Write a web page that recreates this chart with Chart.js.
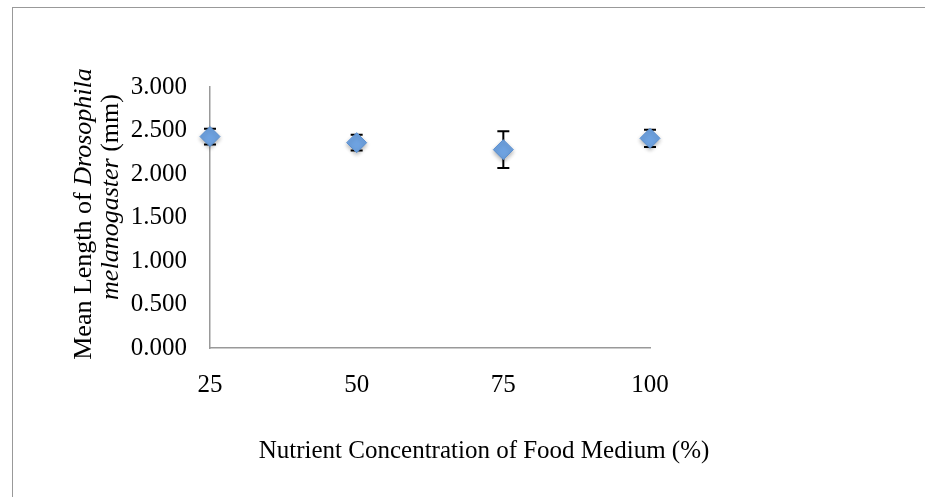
<!DOCTYPE html>
<html>
<head>
<meta charset="utf-8">
<script src="https://cdn.jsdelivr.net/npm/chart.js@4.4.0/dist/chart.umd.min.js"></script>
<style>
  html, body { margin: 0; padding: 0; background: #fff; }
  #wrap { position: relative; width: 925px; height: 497px; overflow: hidden; }
  #frame { position: absolute; left: 12px; top: 7px; width: 1000px; height: 600px;
           border: 1.5px solid #999; box-sizing: border-box; }
  canvas { position: absolute; left: 0; top: 0; }
</style>
</head>
<body>
<div id="wrap">
  <div id="frame"></div>
  <canvas id="chart" width="925" height="497"></canvas>
</div>
<script>
// nutrient concentration of food medium (%)
const concentration = [25, 50, 75, 100];
// mean length (mm) and error bar size
const meanLength = [2.43, 2.36, 2.28, 2.41];
const errorSize = [0.09, 0.09, 0.21, 0.10];
const yTicks = [0, 0.5, 1, 1.5, 2, 2.5, 3];
const xTicks = [25, 50, 75, 100];

const serif = "'Liberation Serif', 'Times New Roman', serif";
const fontSize = 25;
const yTitleSize = 26;

const extras = {
  id: 'extras',
  beforeDatasetsDraw(chart) {
    const { ctx, scales: { x, y } } = chart;
    ctx.save();
    ctx.strokeStyle = '#000';
    ctx.lineWidth = 2;
    concentration.forEach(function (c, i) {
      const px = x.getPixelForValue(c);
      const top = y.getPixelForValue(meanLength[i] + errorSize[i]);
      const bot = y.getPixelForValue(meanLength[i] - errorSize[i]);
      ctx.beginPath();
      ctx.moveTo(px, top); ctx.lineTo(px, bot);
      ctx.moveTo(px - 6, top); ctx.lineTo(px + 6, top);
      ctx.moveTo(px - 6, bot); ctx.lineTo(px + 6, bot);
      ctx.stroke();
    });
    ctx.restore();
  },
  beforeDatasetDraw(chart) {
    const ctx = chart.ctx;
    ctx.save();
    ctx.shadowColor = 'rgba(0,0,0,0.3)';
    ctx.shadowBlur = 4;
    ctx.shadowOffsetY = 2;
  },
  afterDatasetDraw(chart) {
    chart.ctx.restore();
  },
  afterDraw(chart) {
    const ctx = chart.ctx;
    ctx.save();
    ctx.fillStyle = '#000';
    ctx.textBaseline = 'alphabetic';
    // x axis title
    ctx.font = fontSize + 'px ' + serif;
    ctx.textAlign = 'center';
    ctx.fillText('Nutrient Concentration of Food Medium (%)', 484, 458);

    // y axis title, two lines with italic species name
    function line(parts, bx, cy) {
      let w = 0;
      parts.forEach(function (p) { ctx.font = p[1] + yTitleSize + 'px ' + serif; w += ctx.measureText(p[0]).width; });
      ctx.save();
      ctx.translate(bx, cy);
      ctx.rotate(-Math.PI / 2);
      ctx.textAlign = 'left';
      let xx = -w / 2;
      parts.forEach(function (p) {
        ctx.font = p[1] + yTitleSize + 'px ' + serif;
        ctx.fillText(p[0], xx, 0);
        xx += ctx.measureText(p[0]).width;
      });
      ctx.restore();
    }
    line([['Mean Length of ', ''], ['Drosophila', 'italic ']], 91, 214);
    line([['melanogaster', 'italic '], [' (mm)', '']], 118, 197);
    ctx.restore();
  }
};

new Chart(document.getElementById('chart'), {
  type: 'scatter',
  data: {
    datasets: [{
      data: concentration.map(function (c, i) { return { x: c, y: meanLength[i] }; }),
      clip: false,
      pointStyle: 'rectRot',
      pointRadius: 10,
      pointHoverRadius: 10,
      backgroundColor: '#6ea2e0',
      borderColor: '#5a8fd0',
      borderWidth: 1
    }]
  },
  options: {
    responsive: false,
    animation: false,
    events: [],
    layout: { padding: { left: 0, right: 275, top: 87, bottom: 0 } },
    plugins: { legend: { display: false }, tooltip: { enabled: false } },
    scales: {
      x: {
        type: 'linear',
        min: 25, max: 100,
        afterBuildTicks: function (s) { s.ticks = xTicks.map(function (v) { return { value: v }; }); },
        afterFit: function (s) { s.height = 149; },
        grid: { display: false, drawTicks: false },
        border: { display: true, color: '#999', width: 1.5 },
        ticks: { padding: 22, color: '#000', font: { family: serif, size: fontSize } }
      },
      y: {
        min: 0, max: 3,
        afterBuildTicks: function (s) { s.ticks = yTicks.map(function (v) { return { value: v }; }); },
        afterFit: function (s) { s.width = 210; },
        grid: { display: false, drawTicks: false },
        border: { display: true, color: '#999', width: 1.5 },
        ticks: {
          padding: 23, color: '#000', font: { family: serif, size: fontSize },
          callback: function (v) { return Number(v).toFixed(3); }
        }
      }
    }
  },
  plugins: [extras]
});
</script>
</body>
</html>
